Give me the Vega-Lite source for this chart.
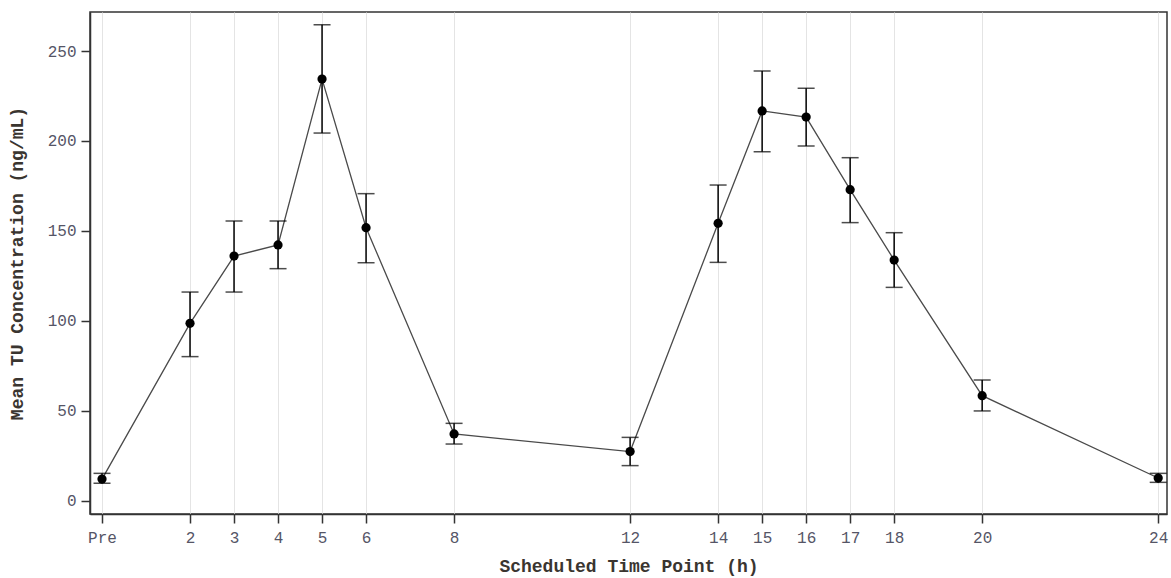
{
  "$schema": "https://vega.github.io/schema/vega-lite/v6.json",
  "width": 1077,
  "height": 502,
  "autosize": {"type": "none"},
  "padding": {"left": 90, "top": 12, "right": 4, "bottom": 64},
  "background": "white",
  "config": {
    "view": {"stroke": "#333333", "strokeWidth": 1.5},
    "font": "Liberation Mono",
    "axis": {
      "labelFont": "Liberation Mono",
      "titleFont": "Liberation Mono",
      "labelFontSize": 16,
      "titleFontSize": 18,
      "titleFontWeight": "bold",
      "titleColor": "#3a3530",
      "labelColor": "#555566",
      "domainColor": "#333333",
      "domainWidth": 1.5,
      "tickColor": "#333333",
      "tickWidth": 1.5,
      "tickSize": 9
    }
  },
  "data": {
    "values": [
      {"t": 0, "mean": 12.0, "lo": 9.7, "hi": 15.2},
      {"t": 2, "mean": 98.6, "lo": 80.1, "hi": 116.0},
      {"t": 3, "mean": 136.0, "lo": 116.0, "hi": 155.5},
      {"t": 4, "mean": 142.2, "lo": 129.0, "hi": 155.5},
      {"t": 5, "mean": 234.4, "lo": 204.4, "hi": 264.6},
      {"t": 6, "mean": 151.8, "lo": 132.3, "hi": 170.7},
      {"t": 8, "mean": 37.1, "lo": 31.5, "hi": 43.0},
      {"t": 12, "mean": 27.3, "lo": 19.5, "hi": 35.2},
      {"t": 14, "mean": 154.2, "lo": 132.5, "hi": 175.5},
      {"t": 15, "mean": 216.7, "lo": 194.0, "hi": 238.9},
      {"t": 16, "mean": 213.3, "lo": 197.2, "hi": 229.3},
      {"t": 17, "mean": 172.9, "lo": 154.6, "hi": 190.7},
      {"t": 18, "mean": 133.8, "lo": 118.6, "hi": 149.0},
      {"t": 20, "mean": 58.4, "lo": 49.9, "hi": 67.1},
      {"t": 24, "mean": 12.6, "lo": 10.2, "hi": 15.2}
    ]
  },
  "encoding": {
    "x": {
      "field": "t",
      "type": "quantitative",
      "scale": {"domain": [-0.273, 24.2], "nice": false, "zero": false},
      "axis": {
        "title": "Scheduled Time Point (h)",
        "values": [0, 2, 3, 4, 5, 6, 8, 12, 14, 15, 16, 17, 18, 20, 24],
        "labelExpr": "datum.value === 0 ? 'Pre' : datum.label",
        "grid": true,
        "gridColor": "#e4e4e4",
        "gridWidth": 1,
        "labelPadding": 6,
        "titlePadding": 12
      }
    }
  },
  "layer": [
    {
      "mark": {"type": "line", "color": "#4a4a4a", "strokeWidth": 1.3},
      "encoding": {
        "y": {
          "field": "mean",
          "type": "quantitative",
          "title": "Mean TU Concentration (ng/mL)",
          "scale": {"domain": [-7.4, 271.7], "nice": false, "zero": false},
          "axis": {
            "values": [0, 50, 100, 150, 200, 250],
            "grid": false,
            "labelPadding": 5,
            "titlePadding": 21
          }
        }
      }
    },
    {
      "mark": {
        "type": "errorbar",
        "ticks": {"size": 17, "thickness": 1.5, "color": "black"},
        "rule": {"strokeWidth": 1.5, "color": "black"}
      },
      "encoding": {
        "y": {"field": "lo", "type": "quantitative", "title": "Mean TU Concentration (ng/mL)"},
        "y2": {"field": "hi"}
      }
    },
    {
      "mark": {"type": "point", "filled": true, "color": "black", "opacity": 1, "size": 85},
      "encoding": {
        "y": {"field": "mean", "type": "quantitative", "title": "Mean TU Concentration (ng/mL)"}
      }
    }
  ]
}
